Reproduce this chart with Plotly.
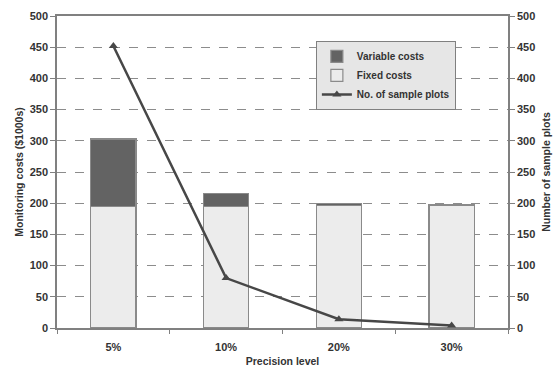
import plotly.graph_objects as go

categories = ["5%", "10%", "20%", "30%"]
fixed_costs = [195, 195, 196, 196]
variable_costs = [108, 20, 3, 1]
sample_plots = [452, 80, 14, 4]
tick_vals = [0, 50, 100, 150, 200, 250, 300, 350, 400, 450, 500]

font_family = "Liberation Sans, Arial, sans-serif"
bold_font = dict(family=font_family, size=11, color="#333333", weight="bold")
title_font = dict(family=font_family, size=10.5, color="#333333", weight="bold")

fig = go.Figure()
fig.add_trace(go.Bar(
    x=categories, y=fixed_costs, name="Fixed costs",
    marker=dict(color="#ececec", line=dict(color="#8a8a8a", width=1.2)),
    width=0.4, legendrank=2))
fig.add_trace(go.Bar(
    x=categories, y=variable_costs, name="Variable costs",
    marker=dict(color="#636363", line=dict(color="#8a8a8a", width=1.2)),
    width=0.4, legendrank=1))
fig.add_trace(go.Scatter(
    x=categories, y=sample_plots, name="No. of sample plots", yaxis="y2",
    mode="lines+markers",
    line=dict(color="#474747", width=2.5),
    marker=dict(symbol="triangle-up", size=8, color="#474747"),
    legendrank=3))

fig.update_layout(
    width=553, height=369,
    margin=dict(l=57, r=45, t=16, b=41),
    paper_bgcolor="white", plot_bgcolor="white",
    barmode="stack", bargap=0.6,
    showlegend=True,
    legend=dict(x=0.574, y=0.92, xanchor="left", yanchor="top",
                traceorder="normal",
                bgcolor="#e6e6e6", bordercolor="#808080", borderwidth=1,
                font=dict(family=font_family, size=10, color="#333333", weight="bold"),
                tracegroupgap=0, itemwidth=30),
    xaxis=dict(
        tickfont=bold_font, showline=True, linecolor="#808080", linewidth=1.5,
        mirror=True, ticks="outside", tickson="boundaries", ticklen=4,
        tickcolor="#808080", automargin=False, ticklabelstandoff=8,
        title=dict(text="Precision level", font=title_font, standoff=6),
    ),
    yaxis=dict(
        range=[0, 500], tickvals=tick_vals, tickfont=bold_font,
        showline=True, linecolor="#808080", linewidth=1.5,
        ticks="outside", ticklen=5, tickcolor="#808080",
        showgrid=True, gridcolor="#8c8c8c", griddash="dash", gridwidth=1,
        zeroline=False, automargin=False,
        title=dict(text="Monitoring costs ($1000s)", font=title_font, standoff=4),
    ),
    yaxis2=dict(
        range=[0, 500], tickvals=tick_vals, tickfont=bold_font,
        overlaying="y", side="right",
        showline=True, linecolor="#808080", linewidth=1.5,
        ticks="outside", ticklen=5, tickcolor="#808080",
        showgrid=False, zeroline=False, automargin=False,
        title=dict(text="Number of sample plots", font=title_font, standoff=8),
    ),
)

fig.write_html("out.html", config={"displayModeBar": False},
               post_script="document.body.style.margin='0';")
